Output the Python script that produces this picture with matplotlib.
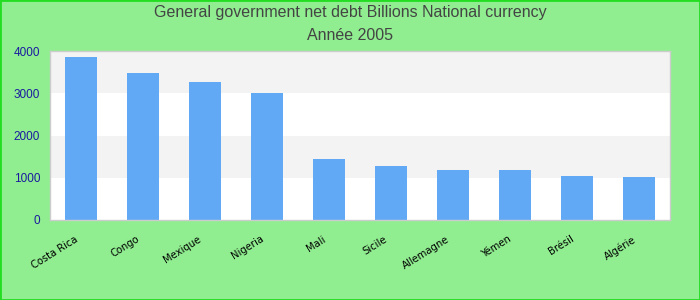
import matplotlib
matplotlib.use("Agg")
import matplotlib.pyplot as plt
import matplotlib.transforms as mtransforms

countries = ["Costa Rica", "Congo", "Mexique", "Nigeria", "Mali", "Sicile",
             "Allemagne", "Yémen", "Brésil", "Algérie"]
debt = [3860, 3480, 3265, 3005, 1445, 1280, 1185, 1185, 1040, 1020]
yticks = [0, 1000, 2000, 3000, 4000]

fig = plt.figure(figsize=(7, 3), dpi=100, facecolor="#90ee90")
ax = fig.add_axes([50 / 700, 1 - 220 / 300, 620 / 700, 169 / 300])
ax.set_facecolor("white")

# alternating bands
for i in range(len(yticks) - 1):
    if i % 2 == 1:
        ax.axhspan(yticks[i], yticks[i + 1], color="#f3f3f3", zorder=0, lw=0)

ax.bar(range(len(countries)), debt, width=0.52, color="#62a9f5", zorder=2)
ax.set_xlim(-0.5, len(countries) - 0.5)
ax.set_ylim(0, 4000)
ax.set_yticks(yticks)
ax.set_yticklabels([str(v) for v in yticks], color="#1a1aa0",
                   fontsize=8.5, family="Liberation Sans")
ax.set_xticks(range(len(countries)))
ax.set_xticklabels(countries, rotation=32, ha="right", rotation_mode="anchor",
                   fontsize=7.2, color="black")
ax.tick_params(axis="y", length=0, pad=7)
ax.tick_params(axis="x", length=0, pad=10)
shift = mtransforms.ScaledTranslation(-7 / 100, 0, fig.dpi_scale_trans)
for lbl in ax.get_xticklabels():
    lbl.set_transform(lbl.get_transform() + shift)
for s in ax.spines.values():
    s.set_color("#cccccc")
    s.set_linewidth(1)

fig.text(0.5, 1 - 13 / 300, "General government net debt Billions National currency",
         ha="center", va="center", fontsize=11.5, color="#444444", family="Liberation Sans")
fig.text(0.5, 1 - 36 / 300, "Année 2005",
         ha="center", va="center", fontsize=11.5, color="#444444", family="Liberation Sans")

border = plt.Rectangle((0, 0), 1, 1, transform=fig.transFigure, fill=False,
                       edgecolor="#22dd22", lw=2)
fig.patches.append(border)

fig.savefig("out.png", dpi=100, facecolor=fig.get_facecolor())
